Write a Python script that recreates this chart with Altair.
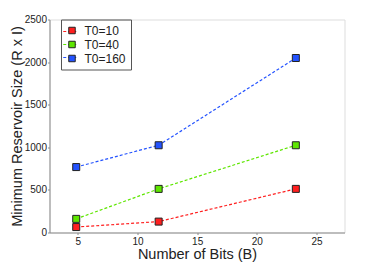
import altair as alt
import pandas as pd

bits = [4.86, 11.77, 23.27]
series = ["T0=10", "T0=40", "T0=160"]
t0_10 = [64, 128, 512]
t0_40 = [160, 512, 1024]
t0_160 = [768, 1024, 2048]
colors = ["#ff1f1f", "#5ee600", "#2453ff"]
x_ticks = [5, 10, 15, 20, 25]
y_ticks = [0, 500, 1000, 1500, 2000, 2500]

rows = []
for name, vals in zip(series, [t0_10, t0_40, t0_160]):
    for b, v in zip(bits, vals):
        rows.append({"bits": b, "size": v, "series": name, "marker": name})
df = pd.DataFrame(rows)

FONT = "Liberation Sans"
W, H = 295, 213

x = alt.X("bits:Q", scale=alt.Scale(domain=[2.62, 27.35], nice=False, zero=False),
          axis=alt.Axis(values=x_ticks, title="Number of Bits (B)", grid=False, format="d",
                        domainColor="#8c8c8c", tickColor="#8c8c8c", tickSize=2,
                        labelFont=FONT, labelFontSize=10, labelColor="#222222",
                        labelPadding=2, labelFlush=False,
                        titleFont=FONT, titleFontSize=14.5, titleFontWeight="normal",
                        titleColor="#222222", titleY=26, titleBaseline="alphabetic"))
y = alt.Y("size:Q", scale=alt.Scale(domain=[0, 2500], nice=False),
          axis=alt.Axis(values=y_ticks, title="Minimum Reservoir Size (R x I)", grid=False,
                        format="d",
                        domainColor="#8c8c8c", tickColor="#8c8c8c", tickSize=2,
                        labelFont=FONT, labelFontSize=10, labelColor="#222222",
                        labelPadding=1, labelFlush=False,
                        titleFont=FONT, titleFontSize=14.5, titleFontWeight="normal",
                        titleColor="#222222", titleX=-28, titleY=H / 2,
                        titleAngle=-90, titleAlign="center", titleBaseline="alphabetic"))

lines = alt.Chart(df).mark_line(strokeDash=[3, 2], strokeWidth=1.2).encode(
    x=x, y=y,
    color=alt.Color("series:N", scale=alt.Scale(domain=series, range=colors),
                    legend=alt.Legend(orient="none", legendX=12.75, legendY=4, title=None,
                                      symbolType="stroke", symbolSize=196,
                                      symbolStrokeWidth=1.2, symbolDash=[3, 2],
                                      labelExpr="''", labelOffset=0,
                                      padding=0, rowPadding=0)),
    detail="series:N",
)
points = alt.Chart(df).mark_point(shape="square", filled=True, size=49, stroke="#222222",
                                  strokeWidth=1, opacity=1).encode(
    x=x, y=y,
    fill=alt.Fill("marker:N", scale=alt.Scale(domain=series, range=colors),
                  legend=alt.Legend(orient="none", legendX=11.5, legendY=0, title=None,
                                    symbolType="square", symbolSize=42,
                                    symbolStrokeColor="#222222", symbolStrokeWidth=1,
                                    symbolOpacity=1,
                                    labelFont=FONT, labelFontSize=12, labelColor="#222222",
                                    labelOffset=6.5, padding=5, rowPadding=2,
                                    strokeColor="#555555")),
)

chart = alt.layer(lines, points).resolve_legend(
    color="independent", fill="independent"
).properties(
    width=W, height=H,
    padding={"left": 41.5, "top": 11.5, "right": 28, "bottom": 30},
    autosize=alt.AutoSizeParams(type="none"),
).configure_view(stroke=None).configure(background="white")

chart.save("out.html", embed_options={"renderer": "svg", "actions": False})
